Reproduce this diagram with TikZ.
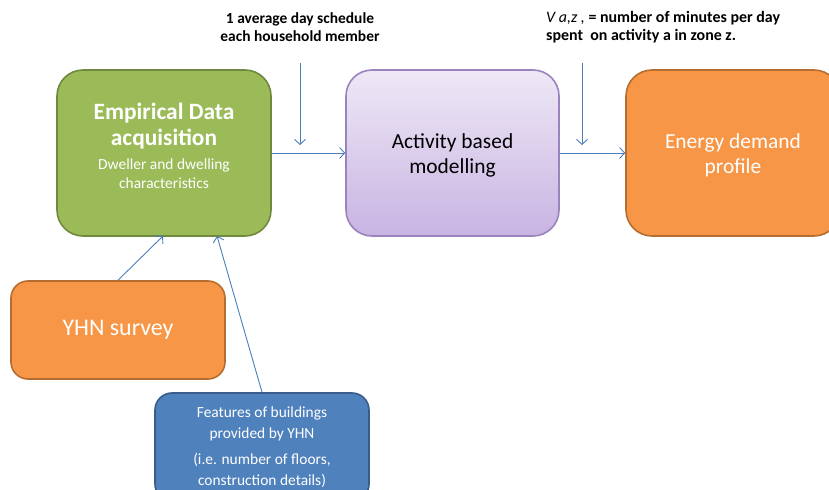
\documentclass[tikz,border=0pt]{standalone}
\usepackage{fontspec}
\setmainfont{Carlito}
\usetikzlibrary{arrows.meta}

\definecolor{greenfill}{HTML}{9BBB59}
\definecolor{greenline}{HTML}{71893F}
\definecolor{orangefill}{HTML}{F79646}
\definecolor{orangeline}{HTML}{B66D31}
\definecolor{bluefill}{HTML}{4F81BD}
\definecolor{blueline}{HTML}{385D8A}
\definecolor{purpletop}{HTML}{EEE8F6}
\definecolor{purplebot}{HTML}{C8B4E2}
\definecolor{purpleline}{HTML}{9B83BE}
\definecolor{arrowblue}{HTML}{4A7EBB}

\tikzset{
  box/.style={rounded corners=#1, line width=1.6bp, align=center, inner sep=0pt},
  box/.default=26bp,
  link/.style={draw=arrowblue, line width=0.9bp, -{Straight Barb[length=5bp,width=11bp]}},
  note/.style={align=center, font=\fontsize{15.5}{18}\selectfont\bfseries, inner sep=0pt},
}

\begin{document}
\begin{tikzpicture}[x=1bp, y=-1bp]
  \useasboundingbox (0,0) rectangle (829,490);

  % main chain
  \node[box, fill=greenfill, draw=greenline, minimum width=214bp, minimum height=166bp] (green) at (164,153) {};
  \node[align=center, text=white, inner sep=0pt, font=\fontsize{23.5}{26}\selectfont\bfseries]
    (greentitle) at (164,126) {Empirical Data\\acquisition};
  \node[align=center, text=white, inner sep=0pt, font=\fontsize{15.5}{19}\selectfont]
    (greensub) at (164,174) {Dweller and dwelling\\characteristics};

  \node[box, top color=purpletop, bottom color=purplebot, draw=purpleline,
        minimum width=213bp, minimum height=166bp] (model) at (452.5,153) {};
  \node[align=center, inner sep=0pt, font=\fontsize{21.5}{25}\selectfont]
    (modeltxt) at (452.5,155) {Activity based\\modelling};

  \node[box, fill=orangefill, draw=orangeline, minimum width=214bp, minimum height=166bp] (energy) at (733,153) {};
  \node[align=center, inner sep=0pt, text=white, font=\fontsize{21.5}{25}\selectfont]
    (energytxt) at (733,155) {Energy demand\\profile};

  % inputs
  \node[box=17bp, fill=orangefill, draw=orangeline, minimum width=214bp, minimum height=98bp,
        text=white, font=\fontsize{24}{28}\selectfont] (yhn) at (118,330) {YHN survey};

  \node[box=17bp, fill=bluefill, draw=blueline, minimum width=214bp, minimum height=108bp,
        text=white, font=\fontsize{15.5}{21.5}\selectfont] (feat) at (262,447)
    {Features of buildings\\provided by YHN\\[4bp](i.e. number of floors,\\construction details)};

  % notes above the chain
  \node[note] (sched) at (300,27) {1 average day schedule\\each household member};
  \node[note, align=left, anchor=west, font=\fontsize{16}{18}\selectfont\bfseries] (vaz) at (546,27)
    {{\mdseries\itshape V a,z ,} = number of minutes per day\\spent\ \ on activity a in zone z.};

  \coordinate (schedtop) at (300,63);
  \coordinate (schedend) at (300,145);
  \coordinate (vaztop) at (582,63);
  \coordinate (vazend) at (582,145);
  \coordinate (yhnhit) at (163,236);
  \coordinate (feathit) at (217,236);

  % connectors
  \draw[link] (green.east) -- (model.west);
  \draw[link] (model.east) -- (energy.west);
  \draw[link] (schedtop) -- (schedend);
  \draw[link] (vaztop) -- (vazend);
  \draw[link] (yhn.north) -- (yhnhit);
  \draw[link] (feat.north) -- (feathit);
\end{tikzpicture}
\end{document}
